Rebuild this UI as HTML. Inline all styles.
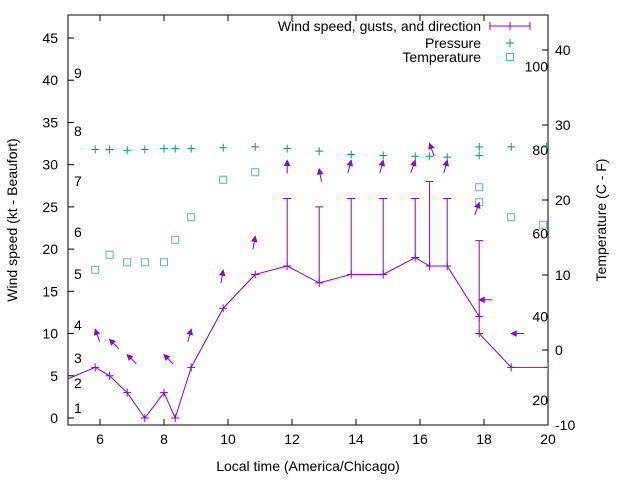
<!DOCTYPE html>
<html><head><meta charset="utf-8"><style>
body{margin:0;background:#fff}
svg{font-family:"Liberation Sans",sans-serif;font-size:14px}
</style></head><body>
<svg id="c" width="640" height="480" xmlns="http://www.w3.org/2000/svg"></svg>
<script>
const times=[4.85,5.85,6.3,6.85,7.4,8.0,8.35,8.85,9.85,10.85,11.85,12.85,13.85,14.85,15.85,16.3,16.85,17.85,17.85,18.85,20];
const speeds=[4.4,6,5,3,0,3,0,6,13,17,18,16,17,17,19,18,18,12,10,6,6];
const gustTimes=[11.85,12.85,13.85,14.85,15.85,16.3,16.85,17.85];
const gustBase=[18,16,17,17,19,18,18,12];
const gustVals=[26,25,26,26,26,28,26,21];
const presTimes=[5.85,6.3,6.85,7.4,8.0,8.35,8.85,9.85,10.85,11.85,12.85,13.85,14.85,15.85,16.3,16.85,17.85,17.85,18.85,19.95];
const presVals=[31.8,31.8,31.7,31.8,31.9,31.9,31.9,32.0,32.1,31.9,31.6,31.2,31.1,31.0,31.0,30.9,32.1,31.1,32.1,32.1];
const tempTimes=[5.85,6.3,6.85,7.4,8.0,8.35,8.85,9.85,10.85,17.85,17.85,18.85,19.85];
const tempVals=[10.7,12.7,11.7,11.7,11.7,14.7,17.7,22.7,23.7,21.7,19.7,17.7,16.7];
const dirTimes=[5.85,6.3,6.85,8.0,8.85,9.85,10.85,11.85,12.85,13.85,14.85,15.85,16.3,16.85,17.85,17.85,18.85];
const dirLevels=[10.5,9.3,7.5,7.5,10.5,17.5,21.5,30.5,29.5,30.5,30.5,30.5,32.5,30.5,25.5,14,10];
const dirAngles=[-110,-135,-135,-135,-75,-80,-80,-90,-100,-75,-75,-70,-110,-75,-70,180,180];
const yTicks=[0,5,10,15,20,25,30,35,40,45];
const xTicks=[6,8,10,12,14,16,18,20];
const y2Ticks=[-10,0,10,20,30,40];
const fTicks=[20,40,60,80,100];
const bft=[[1,408],[2,383],[3,358],[4,325],[5,274],[6,232],[7,181],[8,131],[9,73]];

const L=68,R=548,T=15,B=425;
const X=t=>L+(t-5)*(R-L)/15;
const Y=v=>418-v*(380/45);
const Y2=c=>350-c*7.5;
const YF=f=>Y2((f-32)*5/9);
const svg=document.getElementById('c');const NS='http://www.w3.org/2000/svg';
function mk(tag,at,par){const e=document.createElementNS(NS,tag);for(const k in at)e.setAttribute(k,at[k]);(par||svg).appendChild(e);return e;}
const defs=mk('defs',{});const cp=mk('clipPath',{id:'cp'},defs);mk('rect',{x:L,y:T,width:R-L,height:B-T},cp);
let e=mk('rect',{x:L,y:T,width:R-L,height:B-T,fill:'none',stroke:'#000','stroke-width':1});

yTicks.forEach(v=>{const y=Y(v);mk('line',{x1:L,x2:L+6,y1:y,y2:y,stroke:'#000'});
 const t=mk('text',{x:L-10,y:y+5,'text-anchor':'end'});t.textContent=v;
 });
xTicks.forEach(v=>{const x=X(v);mk('line',{x1:x,x2:x,y1:B,y2:B-6,stroke:'#000'});mk('line',{x1:x,x2:x,y1:T,y2:T+6,stroke:'#000'});
 const t=mk('text',{x:x,y:B+19,'text-anchor':'middle'});t.textContent=v;
 });
y2Ticks.forEach(v=>{const y=Y2(v);mk('line',{x1:R,x2:R-6,y1:y,y2:y,stroke:'#000'});
 const t=mk('text',{x:R+7,y:y+5});t.textContent=v;
 });
fTicks.forEach(v=>{const y=YF(v);const t=mk('text',{x:R,y:y+5,'text-anchor':'end'});t.textContent=v;
 });
bft.forEach(b=>{const t=mk('text',{x:74,y:b[1]+5});t.textContent=b[0];
 });
let t=mk('text',{x:308,y:471,'text-anchor':'middle'});t.textContent='Local time (America/Chicago)';

t=mk('text',{x:0,y:0,'text-anchor':'middle',transform:'translate(17,220) rotate(-90)'});t.textContent='Wind speed (kt - Beaufort)';

t=mk('text',{x:0,y:0,'text-anchor':'middle',transform:'translate(606,220) rotate(-90)'});t.textContent='Temperature (C - F)';

const g=mk('g',{'clip-path':'url(#cp)'});
const P='#9400d3',G='#009e73',C='#56b4e9';
function plus(x,y,col,name){const p=mk('path',{d:`M${x-4} ${y}h8M${x} ${y-4}v8`,stroke:col,fill:'none'},g);
 }
e=mk('polyline',{points:times.map((v,i)=>X(v)+','+Y(speeds[i])).join(' '),fill:'none',stroke:P},g);

times.forEach((v,i)=>plus(X(v),Y(speeds[i]),P,'wind-point'));
gustTimes.forEach((v,i)=>{const x=X(v);const p=mk('path',{d:`M${x} ${Y(gustBase[i])}V${Y(gustVals[i])}M${x-4} ${Y(gustVals[i])}h8`,stroke:P,fill:'none'},g);
 });
presTimes.forEach((v,i)=>plus(X(v),Y(presVals[i]),G,'pressure-point'));
tempTimes.forEach((v,i)=>{const r=mk('rect',{x:X(v)-3.5,y:Y2(tempVals[i])-3.5,width:7,height:7,fill:'none',stroke:C},g);
 });
dirTimes.forEach((v,i)=>{const hx=X(v),hy=Y(dirLevels[i]);const a=dirAngles[i]*Math.PI/180;
 const ux=Math.cos(a),uy=Math.sin(a);const tx=hx-ux*13,ty=hy-uy*13;
 const bx=hx-ux*5,by=hy-uy*5,px=-uy*2.5,py=ux*2.5;
 const gg=mk('g',{},g);
 mk('line',{x1:tx,y1:ty,x2:hx,y2:hy,stroke:P},gg);
 mk('polygon',{points:`${hx},${hy} ${bx+px},${by+py} ${bx-px},${by-py}`,fill:P,stroke:P},gg);});
const lg=mk('g',{});
[['Wind speed, gusts, and direction',26],['Pressure',43],['Temperature',57]].forEach(a=>{const tt=mk('text',{x:481,y:a[1]+5,'text-anchor':'end'},lg);tt.textContent=a[0];});
mk('path',{d:'M490 26H530M490 22v8M530 22v8M510 22v8',stroke:P,fill:'none'},lg);
mk('path',{d:'M506 43h8M510 39v8',stroke:G,fill:'none'},lg);
mk('rect',{x:506.5,y:53.5,width:7,height:7,fill:'none',stroke:C},lg);
</script>
</body></html>
